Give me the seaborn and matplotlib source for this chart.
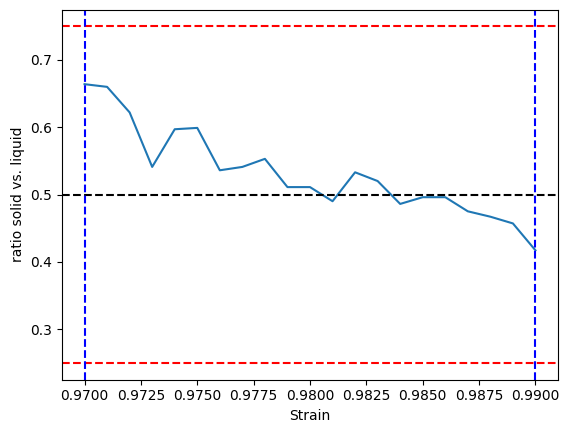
import matplotlib
matplotlib.use("Agg")
import matplotlib.pyplot as plt
import numpy as np
import pandas as pd
import seaborn as sns

# strain steps and the solid/liquid ratio
strain = [0.970, 0.971, 0.972, 0.973, 0.974, 0.975, 0.976, 0.977, 0.978, 0.979, 0.980,
          0.981, 0.982, 0.983, 0.984, 0.985, 0.986, 0.987, 0.988, 0.989, 0.990]
ratio = [0.664, 0.660, 0.622, 0.541, 0.597, 0.599, 0.536, 0.541, 0.553, 0.511, 0.511,
         0.490, 0.533, 0.520, 0.486, 0.496, 0.496, 0.475, 0.467, 0.457, 0.417]

upper_limit = 0.75
lower_limit = 0.25
middle = 0.5
strain_start = 0.970
strain_end = 0.990


def main():
    df = pd.DataFrame({"Strain": strain, "ratio": ratio})
    fig, ax = plt.subplots(figsize=(5.69, 4.33), dpi=100)
    fig.subplots_adjust(left=62 / 569, right=558 / 569, top=1 - 9.5 / 433, bottom=1 - 379.5 / 433)

    sns.lineplot(data=df, x="Strain", y="ratio", ax=ax, color="tab:blue")
    ax.axhline(upper_limit, color="red", linestyle="--")
    ax.axhline(lower_limit, color="red", linestyle="--")
    ax.axhline(middle, color="black", linestyle="--")
    ax.axvline(strain_start, color="blue", linestyle="--")
    ax.axvline(strain_end, color="blue", linestyle="--")

    ax.set_xlabel("Strain")
    ax.set_ylabel("ratio solid vs. liquid")
    fig.savefig("out.png", dpi=100)


if __name__ == "__main__":
    main()
